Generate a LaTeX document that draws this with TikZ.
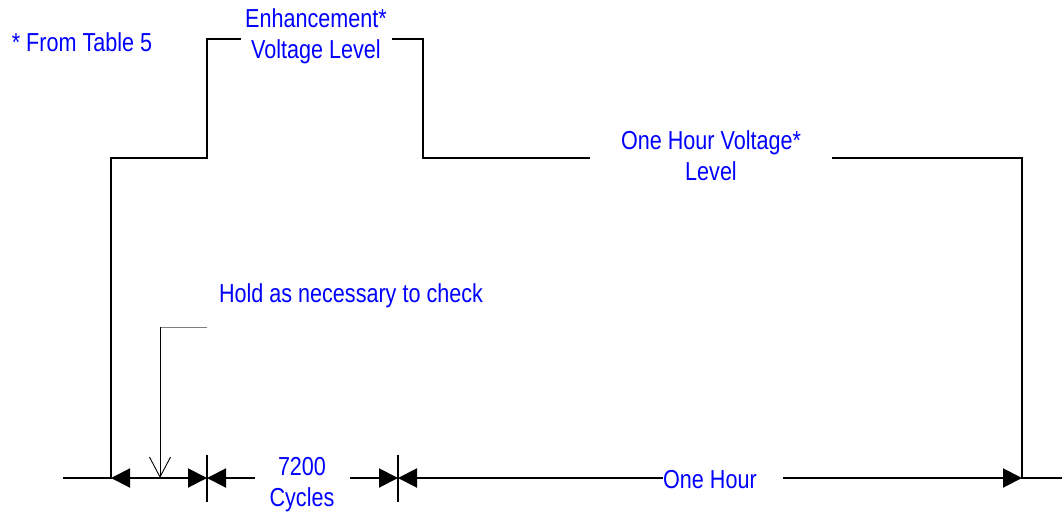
\documentclass[tikz,border=0pt]{standalone}
\usepackage{fontspec}
\setmainfont{Liberation Sans}[FakeStretch=0.83]
\usetikzlibrary{arrows.meta}
\begin{document}
\begin{tikzpicture}[x=1pt,y=-1pt,
  lbl/.style={text=blue,font=\fontsize{26}{31}\selectfont,inner sep=0pt,align=center},
  wave/.style={line width=2pt,line join=miter},
  dim/.style={line width=2pt},
  tip/.style={-{Triangle[length=19pt,width=19pt]}},
  tick/.style={line width=1.2pt},
  hold/.style={line width=0.9pt}]
\useasboundingbox (0,0) rectangle (1062,514);
% labels
\node[lbl] (table) at (82,42) {* From Table 5};
\node[lbl] (enh) at (316,36) {Enhancement*\\Voltage Level};
\node[lbl] (onehv) at (711,156) {One Hour Voltage*\\Level};
\node[lbl] (holdtxt) at (351,296) {Hold as necessary to check};
\node[lbl] (cyc) at (302,485) {7200\\Cycles};
\node[lbl,anchor=west] (hour) at (663,480) {One Hour};
% corner coordinates
\coordinate (a0) at (63,478);
\coordinate (a1) at (111,478);
\coordinate (a2) at (111,158);
\coordinate (a3) at (207,158);
\coordinate (a4) at (207,39);
\coordinate (a5) at (241,39);
\coordinate (b0) at (392,39);
\coordinate (b1) at (423,39);
\coordinate (b2) at (423,158);
\coordinate (b3) at (590,158);
\coordinate (c0) at (832,158);
\coordinate (c1) at (1022,158);
\coordinate (c2) at (1022,478);
\coordinate (c3) at (1062,478);
\coordinate (t1) at (207,478);
\coordinate (t2) at (398,478);
\coordinate (d1) at (255,478);
\coordinate (d2) at (350,478);
\coordinate (d3) at (783,478);
\coordinate (h0) at (207,327);
\coordinate (h1) at (160,327);
\coordinate (h2) at (160,478);
% waveform
\draw[wave] (a0) -- (a1) -- (a2) -- (a3) -- (a4) -- (a5);
\draw[wave] (b0) -- (b1) -- (b2) -- (b3);
\draw[wave] (c0) -- (c1) -- (c2) -- (c3);
% dimension lines
\draw[dim,{Triangle[length=19pt,width=19pt]}-{Triangle[length=19pt,width=19pt]}] (a1) -- (t1);
\draw[dim,tip] (d1) -- (t1);
\draw[dim,tip] (d2) -- (t2);
\draw[dim,tip] (hour.west |- t2) -- (t2);
\draw[dim,tip] (d3) -- (c2);
\draw[tick] (207,455) -- (207,502);
\draw[tick] (398,455) -- (398,502);
% hold arrow
\draw[hold,gray] (h0) -- (h1);
\draw[hold,-{Straight Barb[length=20pt,width=21pt,line width=0.9pt]}] (h1) -- (h2);
\end{tikzpicture}
\end{document}
